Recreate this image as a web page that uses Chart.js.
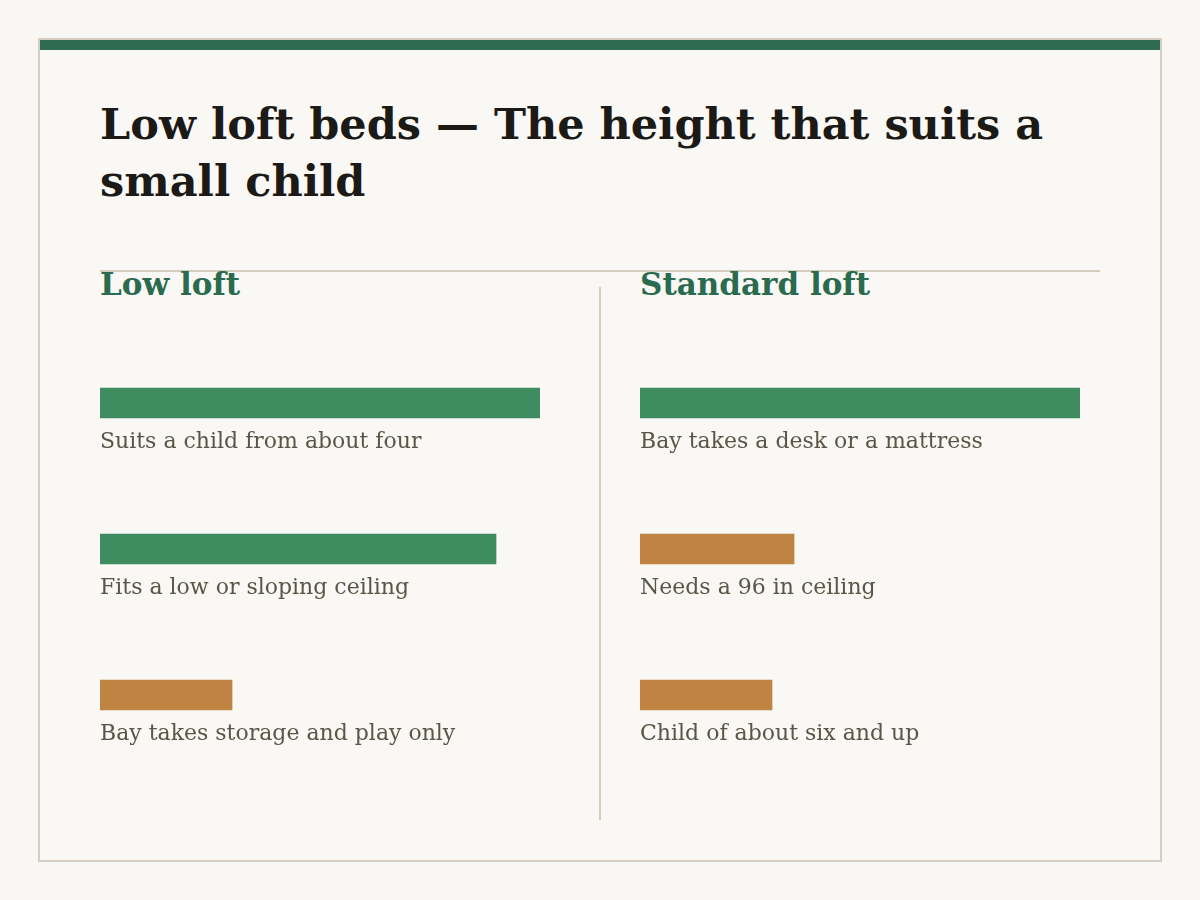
<!DOCTYPE html>
<html>
<head>
<meta charset="utf-8">
<script src="https://cdn.jsdelivr.net/npm/chart.js@4"></script>
<style>
  html, body { margin: 0; padding: 0; }
  body {
    width: 1200px; height: 900px; position: relative; overflow: hidden;
    background: #f8f7f4;
    font-family: "DejaVu Serif", serif;
  }
  .card {
    position: absolute; left: 38px; top: 38px; width: 1124px; height: 824px;
    box-sizing: border-box; border: 2px solid #d6cdc0; background: #f9f8f4;
  }
  .topbar { position: absolute; left: 40px; top: 40px; width: 1120px; height: 10px; background: #2e6b50; }
  h1 {
    position: absolute; left: 100px; top: 96px; width: 1000px; margin: 0;
    font-size: 43px; line-height: 57px; font-weight: bold; color: #1c1a16;
  }
  .rule { position: absolute; left: 100px; top: 270px; width: 1000px; height: 2px; background: #d4ccbd; }
  .divider { position: absolute; left: 599px; top: 287px; width: 2px; height: 533px; background: #d4ccbd; }
  h2 {
    position: absolute; top: 263px; margin: 0;
    font-size: 31px; line-height: 42px; font-weight: bold; color: #2a6b4f;
  }
  .panel { position: absolute; top: 330px; width: 440px; height: 438px; }
</style>
</head>
<body>
<div class="card"></div>
<div class="topbar"></div>
<h1>Low loft beds — The height that suits a small child</h1>
<div class="rule"></div>
<h2 style="left:100px">Low loft</h2>
<h2 style="left:640px">Standard loft</h2>
<div class="divider"></div>
<div class="panel" style="left:100px"><canvas id="lowChart"></canvas></div>
<div class="panel" style="left:640px"><canvas id="standardChart"></canvas></div>

<script>
// Low loft
const lowLabels = ["Suits a child from about four", "Fits a low or sloping ceiling", "Bay takes storage and play only"];
const lowValues = [10, 9, 3];
const lowKinds = ["pro", "pro", "con"];

// Standard loft
const standardLabels = ["Bay takes a desk or a mattress", "Needs a 96 in ceiling", "Child of about six and up"];
const standardValues = [10, 3.5, 3];
const standardKinds = ["pro", "con", "con"];

const scaleMax = 10;
const kindColors = { pro: "#3e8c60", con: "#bf8441" };

// подпись под каждой полосой
const captionPlugin = {
  id: "captions",
  afterDatasetsDraw(chart) {
    const ctx = chart.ctx;
    const meta = chart.getDatasetMeta(0);
    ctx.save();
    ctx.font = "22px 'DejaVu Serif'";
    ctx.fillStyle = "#5b5447";
    ctx.textAlign = "left";
    ctx.textBaseline = "alphabetic";
    meta.data.forEach((bar, i) => {
      ctx.fillText(chart.data.labels[i], chart.chartArea.left, bar.y + 45);
    });
    ctx.restore();
  },
};

function makeChart(id, labels, values, kinds) {
  new Chart(document.getElementById(id), {
    type: "bar",
    data: {
      labels: labels,
      datasets: [
        {
          data: values,
          backgroundColor: kinds.map((k) => kindColors[k]),
          barThickness: 30,
          borderWidth: 0,
        },
      ],
    },
    options: {
      indexAxis: "y",
      responsive: true,
      maintainAspectRatio: false,
      animation: false,
      layout: { padding: 0 },
      plugins: {
        legend: { display: false },
        tooltip: { enabled: false },
      },
      scales: {
        x: { display: false, min: 0, max: scaleMax },
        y: { display: false },
      },
    },
    plugins: [captionPlugin],
  });
}

makeChart("lowChart", lowLabels, lowValues, lowKinds);
makeChart("standardChart", standardLabels, standardValues, standardKinds);
</script>
</body>
</html>
